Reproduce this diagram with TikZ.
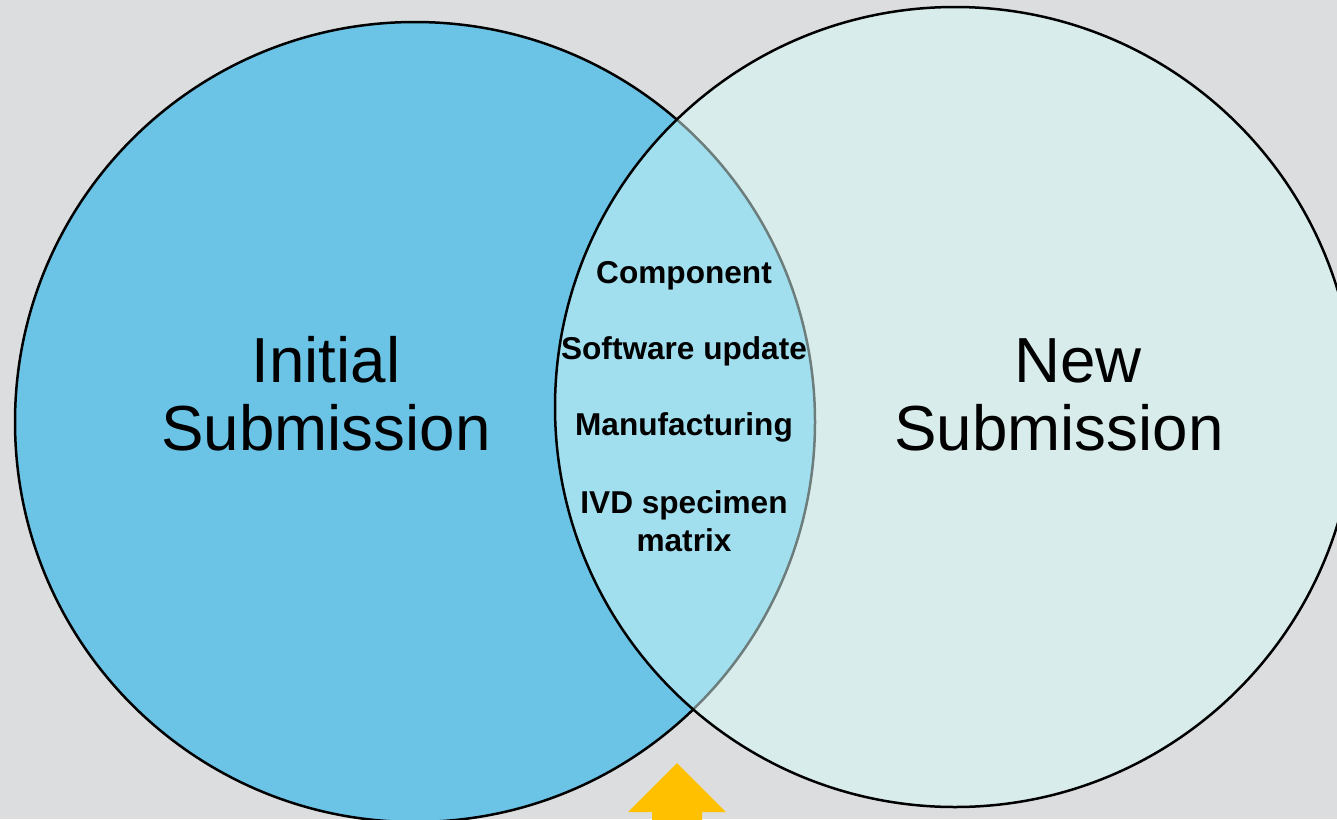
\documentclass[tikz,border=0pt]{standalone}
\usepackage{fontspec}
\setmainfont{Liberation Sans}
\definecolor{bgc}{RGB}{220,221,223}
\definecolor{leftc}{RGB}{107,196,230}
\definecolor{rightc}{RGB}{216,251,249}
\definecolor{arrowc}{RGB}{255,192,0}
\tikzset{
  vennL/.style={circle, draw=black, line width=2.5pt, fill=leftc, minimum size=800pt, inner sep=0pt},
  vennR/.style={circle, draw=black, line width=2.5pt, fill=rightc, fill opacity=0.5, draw opacity=1, minimum size=800pt, inner sep=0pt},
  bigtxt/.style={anchor=base, inner sep=0pt, font=\fontsize{63.7}{68}\selectfont, text=black},
  smalltxt/.style={anchor=base, inner sep=0pt, font=\fontsize{31.6}{38}\selectfont\bfseries, text=black}
}
\begin{document}
\begin{tikzpicture}[x=1pt, y=-1pt]
\useasboundingbox (0,0) rectangle (1337,819);
\fill[bgc] (0,0) rectangle (1337,819);
\begin{scope}
\clip (0,0) rectangle (1337,819);
\node[vennL] (initc) at (415,422) {};
\node[vennR] (newc) at (955,407) {};
\fill[arrowc] (677,763) -- (726,812) -- (702,812) -- (702,830) -- (652,830) -- (652,812) -- (628,812) -- cycle;
\end{scope}
\node[bigtxt] (init1) at (326,382) {Initial};
\node[bigtxt] (init2) at (326,450) {Submission};
\node[bigtxt] (new1) at (1078,382) {New};
\node[bigtxt] (new2) at (1059,450) {Submission};
\node[smalltxt] (comp) at (684,283) {Component};
\node[smalltxt] (soft) at (684,359) {Software update};
\node[smalltxt] (manu) at (684,435) {Manufacturing};
\node[smalltxt] (ivd1) at (684,513) {IVD specimen};
\node[smalltxt] (ivd2) at (684,551) {matrix};
\end{tikzpicture}
\end{document}
